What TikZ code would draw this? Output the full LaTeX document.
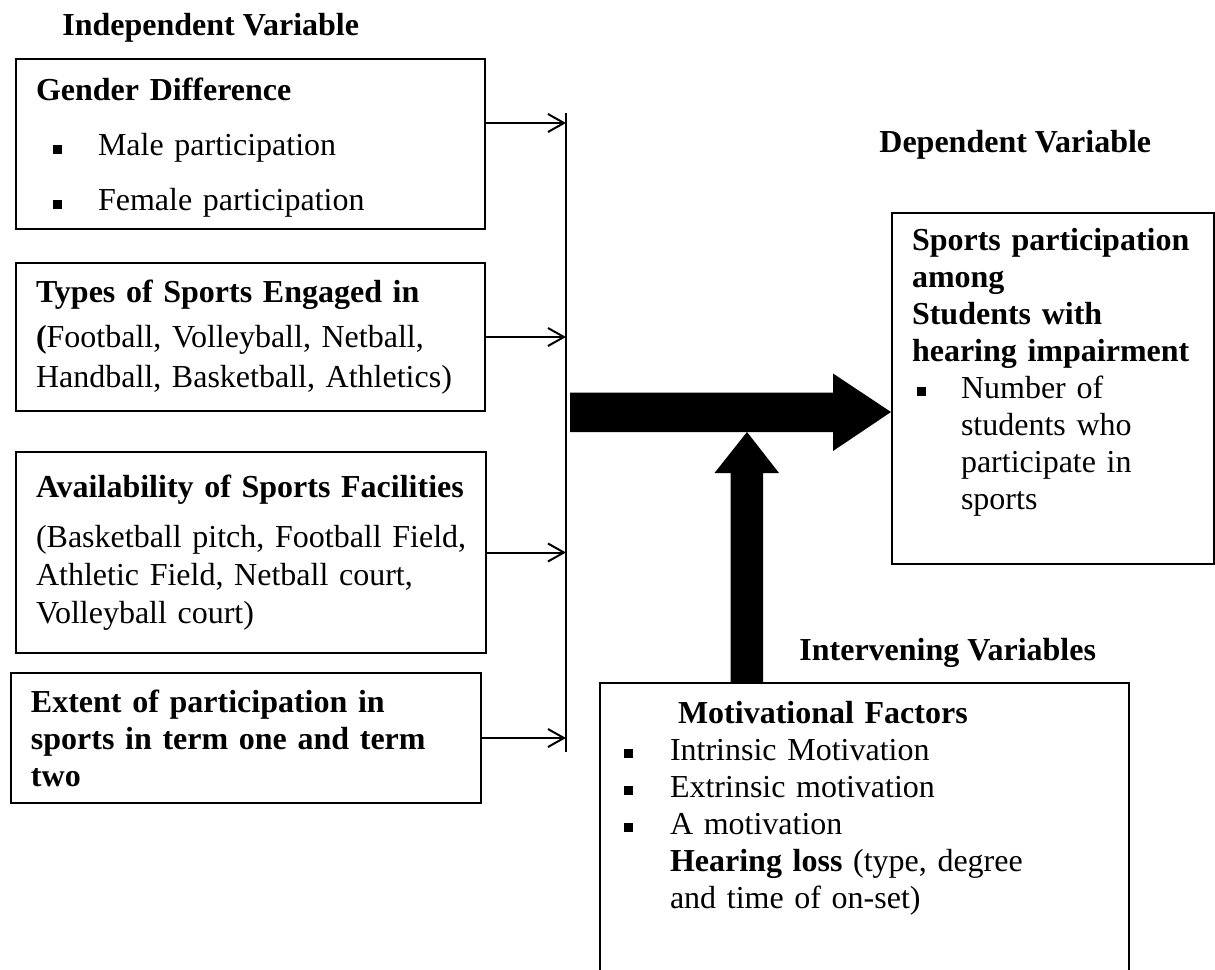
\documentclass[tikz,border=0pt]{standalone}
\usepackage{fontspec}
\setmainfont{Liberation Serif}
\usetikzlibrary{arrows.meta}
\usetikzlibrary{positioning}

\newcommand{\sqb}{\rule[1pt]{4.5pt}{4.5pt}}

\begin{document}
\begin{tikzpicture}[x=0.5pt,y=-0.5pt,
		varbox/.style={draw, line width=1pt, anchor=north west, align=left, inner xsep=10pt, inner ysep=0pt, font=\fontsize{16}{18.5}\selectfont},
		heading/.style={anchor=base west, inner sep=0pt, font=\fontsize{16}{18.5}\selectfont\bfseries},
		link/.style={line width=1pt, -{Straight Barb[length=8pt,width=9pt]}}]
	\useasboundingbox (0,0) rectangle (1215,969);
	
	% headings
	\node[heading] (indep) at (62,35) {Independent Variable};
	\node[heading] (dep) at (879,152) {Dependent Variable};
	\node[heading] (interv) at (799,660) {Intervening Variables};
	
	% independent variables
	\node[varbox, minimum width=234.5pt, text width=214.5pt, minimum height=85pt, font=\fontsize{16}{27.5}\selectfont] (gender) at (15,58) {\rule{0pt}{15pt}\textbf{Gender Difference}\\
		\hspace*{8.5pt}\makebox[22.5pt][l]{\sqb}Male participation\\
		\hspace*{8.5pt}\makebox[22.5pt][l]{\sqb}Female participation};
	\node[varbox, minimum width=234.5pt, text width=214.5pt, minimum height=74pt, font=\fontsize{16}{20}\selectfont] (types) at (15,262) {\textbf{Types of Sports Engaged in}\\[2.5pt]
		\textbf{(}Football, Volleyball, Netball,\\
		Handball, Basketball, Athletics)};
	\node[varbox, minimum width=235pt, text width=215pt, minimum height=100.5pt, font=\fontsize{16}{19}\selectfont] (facil) at (15,451) {\textbf{Availability of Sports Facilities}\\[6pt]
		\mbox{(Basketball pitch, Football Field,}\\
		Athletic Field, Netball court,\\
		Volleyball court)};
	\node[varbox, minimum width=235pt, text width=215pt, minimum height=65pt, font=\fontsize{16}{18.5}\selectfont\bfseries] (extent) at (10,672) {Extent of participation in\\
		sports in term one and term\\
		two};
	
	% dependent variable
	\node[varbox, minimum width=161pt, text width=141pt, minimum height=175.5pt] (outcome) at (891,212) {\textbf{Sports participation}\\
		\textbf{among}\\
		\textbf{Students with}\\
		\textbf{hearing impairment}\\
		\hspace*{2.5pt}\makebox[22pt][l]{\sqb}Number of\\
		\hspace*{24.5pt}students who\\
		\hspace*{24.5pt}participate in\\
		\hspace*{24.5pt}sports\\[1.5pt]
		\mbox{}};
	
	% intervening variables
	\node[varbox, draw=none, inner xsep=11.5pt, inner ysep=8.5pt, text width=240.5pt] (motiv) at (600,683) {\hspace*{27pt}\textbf{Motivational Factors}\\
		\makebox[23pt][l]{\sqb}Intrinsic Motivation\\
		\makebox[23pt][l]{\sqb}Extrinsic motivation\\
		\makebox[23pt][l]{\sqb}A motivation\\
		\hspace*{23pt}\textbf{Hearing loss} (type, degree\\
		\hspace*{23pt}and time of on-set)};
	\coordinate (pagebot) at (0,971);
	\draw[line width=1pt] (motiv.south west |- pagebot) -- (motiv.north west) -- (motiv.north east) -- (motiv.south east |- pagebot);
	
	% collecting line
	\coordinate (bustop) at (566,113);
	\coordinate (busbot) at (566,752);
	\draw[line width=1pt] (bustop) -- (busbot);
	\draw[link] ([yshift=10.5pt]gender.east) -- ([yshift=10.5pt]gender.east -| bustop);
	\draw[link] (types.east) -- (types.east -| bustop);
	\draw[link] (facil.east) -- (facil.east -| bustop);
	\draw[link] (extent.east) -- (extent.east -| bustop);
	
	% thick arrows
	\coordinate (hjoin) at (570,412);
	\coordinate (htip) at (outcome.west |- hjoin);
	\fill (hjoin) ++(0,-19.5) -- ++(263,0) -- ++(0,-19) -- (htip) -- ++(-58,39) -- ++(0,-19) -- ++(-263,0) -- cycle;
	\coordinate (vtip) at (747,432);
	\coordinate (vbase) at (motiv.north -| vtip);
	\fill (vbase) ++(-16.5,0) -- ++(0,-210) -- ++(-16,0) -- (vtip) -- ++(32,41) -- ++(-16,0) -- ++(0,210) -- cycle;
\end{tikzpicture}
\end{document}
